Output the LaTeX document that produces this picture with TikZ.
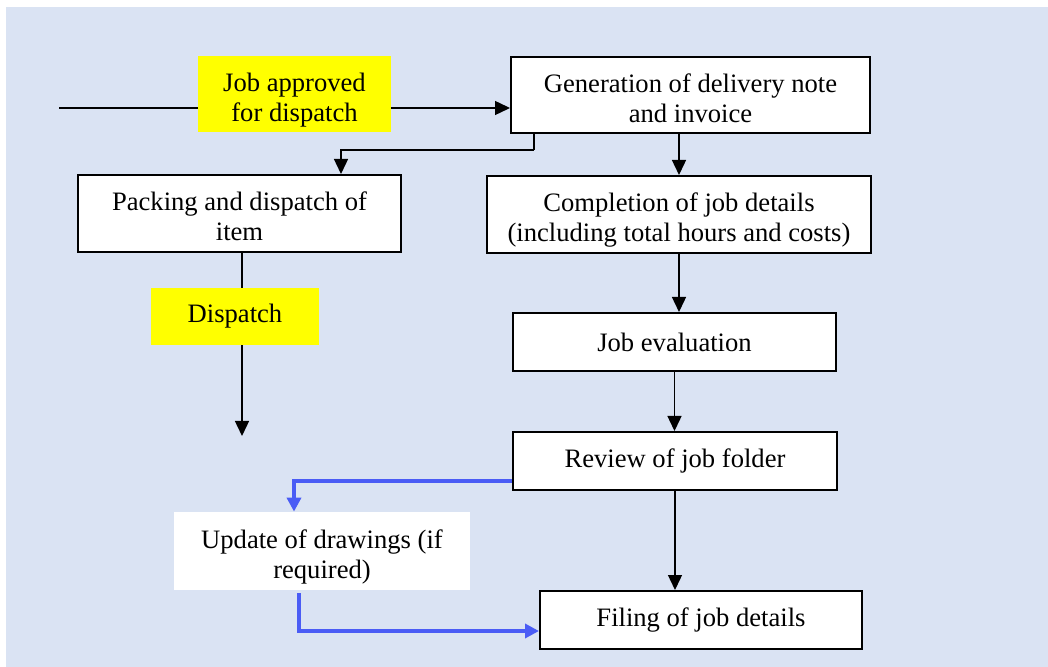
\documentclass[tikz,border=0pt]{standalone}
\usepackage{fontspec}
\setmainfont{Liberation Serif}
\usetikzlibrary{arrows.meta,calc}
\definecolor{bgblue}{HTML}{DAE3F3}
\definecolor{flowblue}{HTML}{4A5CF5}
\definecolor{hl}{HTML}{FFFF00}
\pgfdeclarelayer{bgl}
\pgfdeclarelayer{lines}
\pgfsetlayers{bgl,lines,main}
\begin{document}
\begin{tikzpicture}[x=0.5pt,y=-0.5pt,
  font=\fontsize{13.3}{15}\selectfont,
  box/.style={draw=black, line width=1pt, fill=white, align=center, inner sep=0pt},
  tag/.style={fill=hl, align=center, inner sep=0pt},
  plain/.style={fill=white, align=center, inner sep=0pt},
  twoline/.style={text height=27.4pt, text depth=0pt},
  conn/.style={line width=0.7pt, -{Triangle[length=7.5pt,width=7pt]}},
  bconn/.style={draw=flowblue, line width=2pt, -{Triangle[length=7pt,width=7pt]}}]
\useasboundingbox (0,0) rectangle (1048,667);
\begin{pgfonlayer}{bgl}
\fill[bgblue] (6,7) rectangle (1048,667);
\end{pgfonlayer}

\node[tag, twoline, minimum width=96.5pt, minimum height=38pt] (job) at (294.5,94) {Job approved\\for dispatch};
\node[box, twoline, minimum width=179.5pt, minimum height=38pt] (gen) at (690.5,95) {Generation of delivery note\\and invoice};
\node[box, twoline, minimum width=161.5pt, minimum height=38.5pt] (pack) at (239.5,213.5) {Packing and dispatch of\\item};
\node[box, twoline, minimum width=192pt, minimum height=38.5pt] (comp) at (679,214.5) {Completion of job details\\(including total hours and costs)};
\node[tag, minimum width=84pt, minimum height=28.5pt] (disp) at (235,316.5) {Dispatch};
\node[box, minimum width=161.5pt, minimum height=29pt] (eval) at (674.5,342) {Job evaluation};
\node[box, minimum width=162pt, minimum height=29pt] (rev) at (675,461) {Review of job folder};
\node[plain, twoline, minimum width=148pt, minimum height=39pt] (upd) at (322,551) {Update of drawings (if\\required)};
\node[box, minimum width=161pt, minimum height=29pt] (fil) at (701,620) {Filing of job details};

\coordinate (in) at (59,108);
\coordinate (dend) at (242,436);

\begin{pgfonlayer}{lines}
\draw[line width=0.7pt] (in) -- (in -| job.west);
\draw[conn] (in -| job.east) -- (in -| gen.west);
\draw[line width=0.7pt] ($(gen.south west)+(24,0)$) -- ($(gen.south west)+(24,16)$);
\draw[conn] ($(gen.south west)+(24,16)$) -| ($(pack.north west)+(264,0)$);
\draw[conn] (comp.north |- gen.south) -- (comp.north);
\draw[conn] (comp.south) -- (comp.south |- eval.north);
\draw[conn] (eval.south) -- (eval.south |- rev.north);
\draw[conn] (rev.south) -- (rev.south |- fil.north);
\draw[conn] (pack.south -| dend) -- (dend);
\draw[bconn] ($(rev.west)+(0,20)$) -| ($(upd.north)+(-28,0)$);
\draw[bconn] ($(upd.south)+(-23,3)$) |- ($(fil.west)+(0,11)$);
\end{pgfonlayer}
\end{tikzpicture}
\end{document}
